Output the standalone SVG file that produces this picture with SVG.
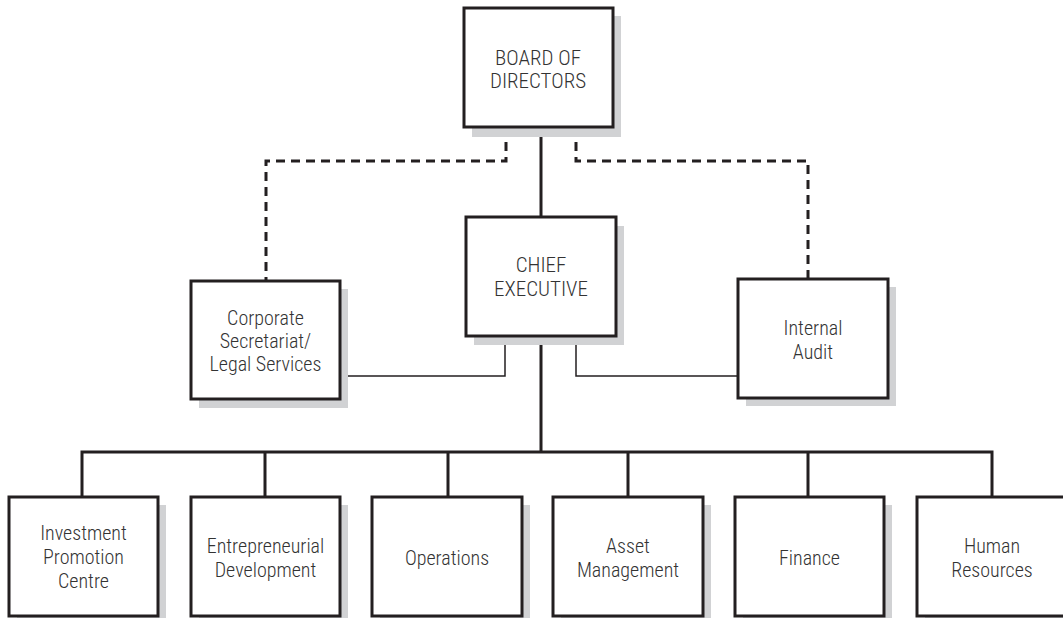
<svg xmlns="http://www.w3.org/2000/svg" width="1063" height="618" viewBox="0 0 1063 618">
<style>
.bg{fill:#ffffff}
.sh{fill:#d1d2d4}
.box{fill:#ffffff;stroke:#231f20;stroke-width:3}
.t{font-family:"Roboto Condensed","Liberation Sans Narrow","Liberation Sans",Arial,sans-serif;font-weight:300;font-size:20px;fill:#333333;text-anchor:middle}
.main{fill:none;stroke:#231f20;stroke-width:3}
.thin{fill:none;stroke:#231f20;stroke-width:1.5}
.dash{fill:none;stroke:#231f20;stroke-width:3;stroke-dasharray:9,6}
</style>
<rect class="bg" x="0" y="0" width="1063" height="618"/>
<g id="connectors">
<path class="main" d="M541,137 V218"/>
<path class="main" d="M541,345 V452 M82,497 V452 H992 V497 M265,452 V497 M448,452 V497 M628,452 V497 M808,452 V497"/>
<path class="thin" d="M340,376 H505 V345"/>
<path class="thin" d="M576,345 V376 H738"/>
<path class="dash" d="M506,142 V161 H266 V281"/>
<path class="dash" d="M576,142 V161 H808 V279"/>
</g>
<g id="board">
<rect class="sh" x="472" y="16" width="149" height="121"/>
<rect class="box" x="464" y="8" width="149" height="119"/>
<text class="t" x="538" y="65" style="font-size:21px">BOARD OF</text>
<text class="t" x="538" y="88" style="font-size:21px">DIRECTORS</text>
</g>
<g id="ceo">
<rect class="sh" x="474" y="226" width="150" height="119"/>
<rect class="box" x="466" y="217" width="150" height="119"/>
<text class="t" x="541" y="272" style="font-size:21px">CHIEF</text>
<text class="t" x="541" y="296" style="font-size:21px">EXECUTIVE</text>
</g>
<g id="corporate">
<rect class="sh" x="199" y="289" width="149" height="119"/>
<rect class="box" x="191" y="281" width="149" height="118"/>
<text class="t" x="265.5" y="325">Corporate</text>
<text class="t" x="265.5" y="348">Secretariat/</text>
<text class="t" x="265.5" y="371">Legal Services</text>
</g>
<g id="audit">
<rect class="sh" x="746" y="287" width="150" height="119"/>
<rect class="box" x="738" y="279" width="150" height="119"/>
<text class="t" x="813" y="335">Internal</text>
<text class="t" x="813" y="359">Audit</text>
</g>
<g id="investment">
<rect class="sh" x="17" y="505" width="149" height="125"/>
<rect class="box" x="9" y="497" width="149" height="119"/>
<text class="t" x="83.5" y="540">Investment</text>
<text class="t" x="83.5" y="564">Promotion</text>
<text class="t" x="83.5" y="588">Centre</text>
</g>
<g id="entrepreneurial">
<rect class="sh" x="199" y="505" width="149" height="125"/>
<rect class="box" x="191" y="497" width="149" height="119"/>
<text class="t" x="265.5" y="553">Entrepreneurial</text>
<text class="t" x="265.5" y="577">Development</text>
</g>
<g id="operations">
<rect class="sh" x="380" y="505" width="150" height="125"/>
<rect class="box" x="372" y="497" width="150" height="119"/>
<text class="t" x="447" y="565">Operations</text>
</g>
<g id="asset">
<rect class="sh" x="561" y="505" width="150" height="125"/>
<rect class="box" x="553" y="497" width="150" height="119"/>
<text class="t" x="628" y="553">Asset</text>
<text class="t" x="628" y="577">Management</text>
</g>
<g id="finance">
<rect class="sh" x="743" y="505" width="149" height="125"/>
<rect class="box" x="735" y="497" width="149" height="119"/>
<text class="t" x="809.5" y="565">Finance</text>
</g>
<g id="hr">
<rect class="sh" x="925" y="505" width="150" height="125"/>
<rect class="box" x="917" y="497" width="150" height="119"/>
<text class="t" x="992" y="553">Human</text>
<text class="t" x="992" y="577">Resources</text>
</g>
</svg>
